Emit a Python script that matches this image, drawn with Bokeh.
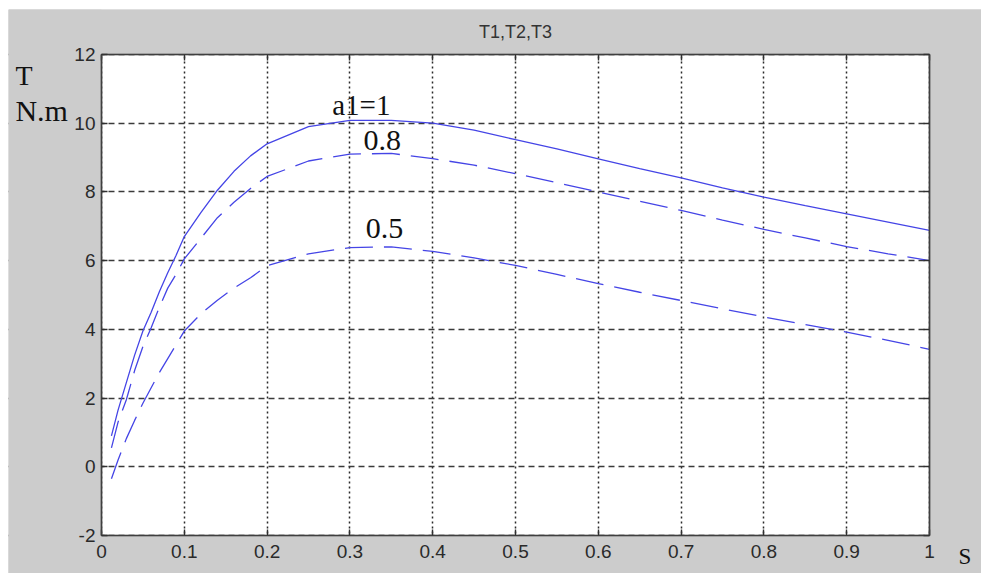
from bokeh.plotting import figure
from bokeh.models import Range1d, LinearAxis, FixedTicker, Label, BoxAnnotation
from bokeh.embed import file_html
from bokeh.resources import INLINE

# ---- data ----
slip = [0.012, 0.02, 0.03, 0.04, 0.05, 0.06, 0.07, 0.08, 0.09, 0.10,
        0.12, 0.14, 0.16, 0.18, 0.20, 0.25, 0.30, 0.35, 0.40, 0.45,
        0.50, 0.55, 0.60, 0.65, 0.70, 0.75, 0.80, 0.85, 0.90, 0.95, 1.00]
T1 = [0.9, 1.65, 2.45, 3.25, 3.95, 4.5, 5.1, 5.65, 6.15, 6.7,
      7.4, 8.05, 8.6, 9.05, 9.4, 9.9, 10.08, 10.08, 10.0, 9.8,
      9.52, 9.25, 8.96, 8.68, 8.41, 8.12, 7.85, 7.6, 7.36, 7.12, 6.88]
T2 = [0.55, 1.3, 1.95, 2.8, 3.5, 4.05, 4.65, 5.2, 5.6, 6.05,
      6.65, 7.25, 7.7, 8.1, 8.45, 8.9, 9.1, 9.12, 8.97, 8.78,
      8.53, 8.27, 8.0, 7.73, 7.46, 7.18, 6.91, 6.66, 6.41, 6.2, 6.0]
T3 = [-0.35, 0.2, 0.82, 1.35, 1.85, 2.3, 2.75, 3.15, 3.55, 3.95,
      4.45, 4.85, 5.2, 5.5, 5.85, 6.2, 6.38, 6.4, 6.27, 6.08,
      5.86, 5.6, 5.33, 5.08, 4.84, 4.6, 4.36, 4.14, 3.92, 3.68, 3.42]

x_ticks = [0, 0.1, 0.2, 0.3, 0.4, 0.5, 0.6, 0.7, 0.8, 0.9, 1.0]
x_tick_labels = ["0", "0.1", "0.2", "0.3", "0.4", "0.5", "0.6", "0.7", "0.8", "0.9", "1"]
y_ticks = [-2, 0, 2, 4, 6, 8, 10, 12]
y_tick_labels = ["-2", "0", "2", "4", "6", "8", "10", "12"]

title_text = "T1,T2,T3"
y_label_lines = ["T", "N.m"]
x_label_text = "S"
curve_labels = ["a1=1", "0.8", "0.5"]

X_MIN, X_MAX = 0.0, 1.0
Y_MIN, Y_MAX = -2.0, 12.0

# ---- layout: the Bokeh frame covers the whole canvas, the axes box sits inside ----
W, H = 973, 564
BOX_L, BOX_R, BOX_T, BOX_B = 93, 921, 45, 526     # pixel edges of the axes box
sx = (X_MAX - X_MIN) / (BOX_R - BOX_L)
sy = (Y_MAX - Y_MIN) / (BOX_B - BOX_T)
x_rng = Range1d(X_MIN - BOX_L * sx, X_MAX + (W - BOX_R) * sx)
y_rng = Range1d(Y_MIN - (H - BOX_B) * sy, Y_MAX + BOX_T * sy)

p = figure(frame_width=W, frame_height=H, margin=(9, 0, 0, 8),
           min_border=0, min_border_left=0, min_border_right=0,
           min_border_top=0, min_border_bottom=0,
           output_backend="svg", toolbar_location=None,
           x_range=x_rng, y_range=y_rng)
gray = "#cccccc"
p.background_fill_color = gray
p.border_fill_color = gray
p.outline_line_color = None

# white axes box (under the grid)
p.add_layout(BoxAnnotation(left=X_MIN, right=X_MAX, bottom=Y_MIN, top=Y_MAX,
                           fill_color="white", fill_alpha=1.0, line_color=None, level="image"))

p.xgrid.ticker = FixedTicker(ticks=x_ticks)
p.ygrid.ticker = FixedTicker(ticks=y_ticks)
p.xgrid.grid_line_color = "#2a2a2a"
p.xgrid.grid_line_width = 1.5
p.xgrid.grid_line_dash = "2 3"
p.ygrid.grid_line_color = "#3a3a3a"
p.ygrid.grid_line_width = 1.3
p.ygrid.grid_line_dash = "6 4"

# gray masks so that grid lines stop at the axes box
for kw in (dict(right=X_MIN), dict(left=X_MAX), dict(bottom=Y_MAX), dict(top=Y_MIN)):
    p.add_layout(BoxAnnotation(fill_color=gray, fill_alpha=1.0, line_color=None,
                               level="underlay", **kw))

# box outline
p.add_layout(BoxAnnotation(left=X_MIN, right=X_MAX, bottom=Y_MIN, top=Y_MAX,
                           fill_alpha=0, line_color="#404040", line_width=1.6, level="overlay"))

line_color = "#4545e6"
p.line(slip, T1, line_color=line_color, line_width=1.3)
p.line(slip, T2, line_color=line_color, line_width=1.3, line_dash="28 11")
p.line(slip, T3, line_color=line_color, line_width=1.3, line_dash="28 11")


def style_axis(ax, ticks, labels, bounds, loc, show_labels=True):
    ax.fixed_location = loc
    ax.bounds = bounds
    ax.ticker = FixedTicker(ticks=ticks)
    ax.major_label_overrides = {t: l for t, l in zip(ticks, labels)}
    ax.major_tick_in = 6
    ax.major_tick_out = 0
    ax.minor_tick_line_color = None
    ax.axis_line_color = "#404040"
    ax.axis_line_width = 1.6
    ax.major_tick_line_color = "#303030"
    ax.major_tick_line_width = 1.4
    ax.major_label_text_font = "Liberation Sans"
    ax.major_label_text_color = "#2a2a2a"
    if show_labels:
        ax.major_label_text_font_size = "19px"
    else:
        ax.major_label_text_font_size = "0px"
        ax.major_label_standoff = 0


style_axis(p.xaxis[0], x_ticks, x_tick_labels, (X_MIN, X_MAX), Y_MIN)
p.xaxis[0].major_label_standoff = 9
style_axis(p.yaxis[0], y_ticks, y_tick_labels, (Y_MIN, Y_MAX), X_MIN)
p.yaxis[0].major_label_standoff = 6

top_ax = LinearAxis()
p.add_layout(top_ax, "above")
style_axis(top_ax, x_ticks, x_tick_labels, (X_MIN, X_MAX), Y_MAX, show_labels=False)
right_ax = LinearAxis()
p.add_layout(right_ax, "right")
style_axis(right_ax, y_ticks, y_tick_labels, (Y_MIN, Y_MAX), X_MAX, show_labels=False)

serif = "Liberation Serif"
ink = "#111111"

# title
p.add_layout(Label(x=0.5, y=12.655, text=title_text, text_align="center", text_baseline="middle",
                   text_font="Liberation Sans", text_font_size="18px", text_color="#333333"))
# axis labels
p.add_layout(Label(x=-0.104, y=11.39, text=y_label_lines[0], text_baseline="alphabetic",
                   text_font=serif, text_font_size="28px", text_color=ink))
p.add_layout(Label(x=-0.104, y=10.37, text=y_label_lines[1], text_baseline="alphabetic",
                   text_font=serif, text_font_size="30px", text_color=ink))
p.add_layout(Label(x=1.035, y=-2.6, text=x_label_text, text_baseline="alphabetic",
                   text_font=serif, text_font_size="23px", text_color=ink))
# curve annotations
p.add_layout(Label(x=0.2786, y=10.52, text=curve_labels[0], text_baseline="alphabetic",
                   text_font=serif, text_font_size="29px", text_color=ink))
p.add_layout(Label(x=0.3164, y=9.50, text=curve_labels[1], text_baseline="alphabetic",
                   text_font=serif, text_font_size="30px", text_color=ink))
p.add_layout(Label(x=0.319, y=6.94, text=curve_labels[2], text_baseline="alphabetic",
                   text_font=serif, text_font_size="30px", text_color=ink))

open("out.html", "w").write(file_html(p, INLINE))
